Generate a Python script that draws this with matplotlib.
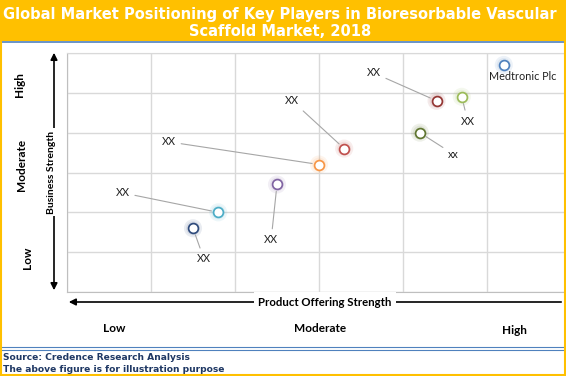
import matplotlib
matplotlib.use("Agg")
import matplotlib.pyplot as plt
from matplotlib.patches import Rectangle, FancyArrowPatch
from matplotlib.lines import Line2D

W, H = 566, 376

# ---- data ----
names = ["XX", "XX", "XX", "XX", "XX", "XX", "XX", "xx", "Medtronic Plc"]
product_strength = [1.5, 1.8, 2.5, 3.0, 3.3, 4.4, 4.7, 4.2, 5.2]
business_strength = [1.6, 2.0, 2.7, 3.2, 3.6, 4.8, 4.9, 4.0, 5.7]
colors = ["#2F4B7C", "#4BACC6", "#8064A2", "#F79646", "#C0504D",
          "#943634", "#9BBB59", "#5F7530", "#4F81BD"]
label_x = [1.63, 0.66, 2.43, 1.21, 2.68, 3.65, 4.77, 4.60, 5.43]
label_y = [0.83, 2.49, 1.31, 3.77, 4.80, 5.50, 4.29, 3.46, 5.40]
leader = [True, True, True, True, True, True, True, True, False]
y_levels = ["Low", "Moderate", "High"]
x_levels = ["Low", "Moderate", "High"]

fig = plt.figure(figsize=(W / 100, H / 100), dpi=100)
fig.patch.set_facecolor("white")


def fx(px):
    return px / W


def fy(py):
    return 1 - py / H


# title band
fig.patches.append(Rectangle((0, fy(41)), 1, 41 / H, transform=fig.transFigure,
                             facecolor="#FFC000", edgecolor="none", zorder=0))
fig.lines.append(Line2D([0, 1], [fy(41.5), fy(41.5)], transform=fig.transFigure,
                        color="#4F81BD", lw=1.2))
fig.text(fx(280), fy(14), "Global Market Positioning of Key Players in Bioresorbable Vascular",
         ha="center", va="center", color="white", fontsize=10.5, fontweight="bold",
         family="DejaVu Sans")
fig.text(fx(280), fy(32), "Scaffold Market, 2018", ha="center", va="center", color="white",
         fontsize=10.5, fontweight="bold", family="DejaVu Sans")

# outer yellow border
fig.patches.append(Rectangle((0.001, 0.002), 0.997, 0.996, transform=fig.transFigure,
                             facecolor="none", edgecolor="#FFC000", lw=1.5, zorder=10))

# footer lines & text
for yy in (347, 349.5):
    fig.lines.append(Line2D([0, 1], [fy(yy), fy(yy)], transform=fig.transFigure,
                            color="#4F81BD", lw=0.8))
fig.text(fx(3), fy(358), "Source: Credence Research Analysis", ha="left", va="center",
         color="#1F3864", fontsize=6.6, fontweight="bold", family="DejaVu Sans")
fig.text(fx(3), fy(369), "The above figure is for illustration purpose", ha="left",
         va="center", color="#1F3864", fontsize=6.6, fontweight="bold", family="DejaVu Sans")

# main axes
x0, x1, y0, y1 = 67, 565, 53, 292
ax = fig.add_axes([fx(x0), fy(y1), (x1 - x0) / W, (y1 - y0) / H])
ax.set_xlim(0, (x1 - x0) / 84)
ax.set_ylim(0, 6)
ax.set_xticks(range(0, 6))
ax.set_yticks(range(0, 7))
ax.grid(True, color="#D9D9D9", lw=1)
ax.tick_params(length=0, labelbottom=False, labelleft=False)
for s in ax.spines.values():
    s.set_color("#D9D9D9")
ax.spines["left"].set_color("#BFBFBF")
ax.spines["bottom"].set_color("#BFBFBF")
ax.spines["right"].set_visible(False)
ax.set_axisbelow(True)

for i in range(len(names)):
    x, y, c = product_strength[i], business_strength[i], colors[i]
    ax.scatter([x], [y], s=170, color=c, alpha=0.10, edgecolors="none", zorder=3)
    ax.scatter([x], [y], s=100, color=c, alpha=0.10, edgecolors="none", zorder=3)
    ax.scatter([x], [y], s=50, facecolors="white", edgecolors=c, linewidths=1.25, zorder=4)
    if leader[i]:
        ax.annotate(names[i], xy=(x, y), xytext=(label_x[i], label_y[i]),
                    ha="center", va="center", fontsize=7.8, family="Lato", color="#222222",
                    arrowprops=dict(arrowstyle="-", color="#A6A6A6", lw=0.8,
                                    shrinkA=2, shrinkB=5), zorder=5)
    else:
        ax.text(label_x[i], label_y[i], names[i], ha="center", va="center",
                fontsize=7.8, family="Lato", color="#222222", zorder=5)

# vertical arrow (business strength)
fig.patches.append(FancyArrowPatch(
    (fx(54), fy(293)), (fx(54), fy(50)), transform=fig.transFigure,
    arrowstyle="<|-|>", mutation_scale=10, color="black", lw=1.2))
fig.text(fx(52), fy(172), "Business Strength", rotation=90, ha="center", va="center",
         fontsize=7.5, fontweight="bold", family="Lato",
         bbox=dict(facecolor="white", edgecolor="none", pad=1.5), zorder=20)

# horizontal arrow (product offering strength)
fig.patches.append(FancyArrowPatch(
    (fx(564), fy(302)), (fx(66), fy(302)), transform=fig.transFigure,
    arrowstyle="-|>", mutation_scale=10, color="black", lw=1.2))
fig.text(fx(325), fy(302), "Product Offering Strength", ha="center", va="center",
         fontsize=8.2, fontweight="bold", family="Lato",
         bbox=dict(facecolor="white", edgecolor="none", pad=3), zorder=20)

# level labels
for lbl, py, px in zip(y_levels, [258, 165, 85], [27, 22, 20]):
    fig.text(fx(px), fy(py), lbl, rotation=90, ha="center", va="center",
             fontsize=8.5, fontweight="bold", family="Lato")
for lbl, px, py in zip(x_levels, [114, 320, 514], [329, 328, 331]):
    fig.text(fx(px), fy(py), lbl, ha="center", va="center",
             fontsize=8.5, fontweight="bold", family="Lato")

fig.savefig("out.png", dpi=100, facecolor="white")
